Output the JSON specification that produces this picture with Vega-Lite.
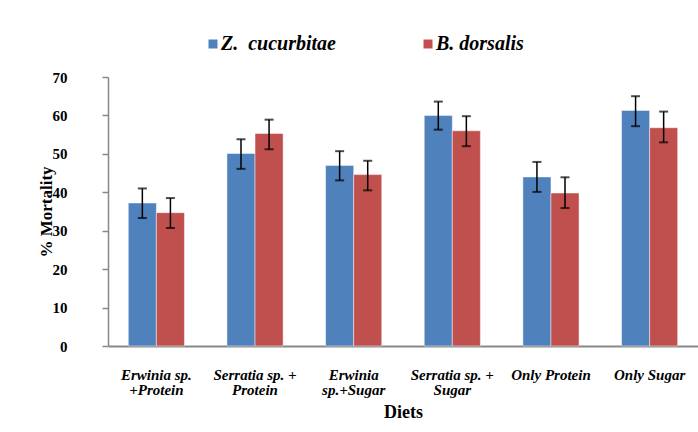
{
  "$schema": "https://vega.github.io/schema/vega-lite/v6.json",
  "autosize": "none",
  "width": 590,
  "height": 269,
  "padding": {"left": 108, "top": 77, "right": 0, "bottom": 86},
  "background": "white",
  "config": {
    "view": {"stroke": null},
    "font": "Liberation Serif"
  },
  "data": {
    "values": [
      {"diet": "Erwinia sp.|+Protein", "species": "Z.\u00a0 cucurbitae", "mortality": 37.2, "lo": 33.3, "hi": 41.0},
      {"diet": "Erwinia sp.|+Protein", "species": "B. dorsalis", "mortality": 34.7, "lo": 30.7, "hi": 38.5},
      {"diet": "Serratia sp. +|Protein", "species": "Z.\u00a0 cucurbitae", "mortality": 50.1, "lo": 46.1, "hi": 53.8},
      {"diet": "Serratia sp. +|Protein", "species": "B. dorsalis", "mortality": 55.3, "lo": 51.2, "hi": 58.9},
      {"diet": "Erwinia|sp.+Sugar", "species": "Z.\u00a0 cucurbitae", "mortality": 47.0, "lo": 43.1, "hi": 50.7},
      {"diet": "Erwinia|sp.+Sugar", "species": "B. dorsalis", "mortality": 44.6, "lo": 40.5, "hi": 48.2},
      {"diet": "Serratia sp. +|Sugar", "species": "Z.\u00a0 cucurbitae", "mortality": 60.0, "lo": 56.3, "hi": 63.6},
      {"diet": "Serratia sp. +|Sugar", "species": "B. dorsalis", "mortality": 56.0, "lo": 52.0, "hi": 59.8},
      {"diet": "Only Protein", "species": "Z.\u00a0 cucurbitae", "mortality": 44.0, "lo": 40.1, "hi": 47.9},
      {"diet": "Only Protein", "species": "B. dorsalis", "mortality": 39.8, "lo": 35.9, "hi": 43.9},
      {"diet": "Only Sugar", "species": "Z.\u00a0 cucurbitae", "mortality": 61.3, "lo": 57.2, "hi": 65.0},
      {"diet": "Only Sugar", "species": "B. dorsalis", "mortality": 56.8, "lo": 53.0, "hi": 61.0}
    ]
  },
  "resolve": {"axis": {"y": "independent"}},
  "encoding": {
    "x": {
      "field": "diet",
      "type": "nominal",
      "sort": null,
      "scale": {"paddingInner": 0.431, "paddingOuter": 0.206},
      "axis": {
        "title": "Diets",
        "titleFont": "Liberation Serif",
        "titleFontSize": 18,
        "titleFontWeight": "bold",
        "titleColor": "black",
        "titlePadding": 6,
        "labelExpr": "split(datum.label, '|')",
        "labelFont": "Liberation Serif",
        "labelFontSize": 15,
        "labelFontWeight": "bold",
        "labelFontStyle": "italic",
        "labelColor": "black",
        "labelLineHeight": 15,
        "labelAngle": 0,
        "labelPadding": 21,
        "labelLimit": 200,
        "ticks": false,
        "tickSize": 0,
        "domainColor": "#888888",
        "domainWidth": 2
      }
    },
    "xOffset": {
      "field": "species",
      "type": "nominal",
      "sort": ["Z.\u00a0 cucurbitae", "B. dorsalis"],
      "scale": {"paddingInner": 0, "paddingOuter": 0}
    }
  },
  "layer": [
    {
      "mark": {"type": "bar", "stroke": "white", "strokeOpacity": 0.45, "strokeWidth": 1},
      "encoding": {
        "y": {
          "field": "mortality",
          "type": "quantitative",
          "scale": {"domain": [0, 70]},
          "axis": {
            "title": "% Mortality",
            "titleFont": "Liberation Serif",
            "titleFontSize": 17,
            "titleFontWeight": "bold",
            "titleColor": "black",
            "titlePadding": -3,
            "values": [0, 10, 20, 30, 40, 50, 60, 70],
            "labelOverlap": false,
            "labelFont": "Liberation Serif",
            "labelFontSize": 15,
            "labelFontWeight": "bold",
            "labelColor": "black",
            "labelPadding": 35,
            "tickSize": 6,
            "tickColor": "#888888",
            "tickWidth": 1.5,
            "domainColor": "#888888",
            "domainWidth": 1.5,
            "grid": false
          }
        },
        "color": {
          "field": "species",
          "type": "nominal",
          "sort": ["Z.\u00a0 cucurbitae", "B. dorsalis"],
          "scale": {"domain": ["Z.\u00a0 cucurbitae", "B. dorsalis"], "range": ["#4F81BD", "#C0504D"]},
          "legend": {
            "title": null,
            "orient": "none",
            "legendX": 95,
            "legendY": -43,
            "direction": "horizontal",
            "columns": 2,
            "columnPadding": 82,
            "symbolType": "square",
            "symbolSize": 81,
            "symbolStrokeWidth": 0,
            "labelOffset": -2,
            "labelFont": "Liberation Serif",
            "labelFontSize": 20,
            "labelFontWeight": "bold",
            "labelFontStyle": "italic",
            "labelColor": "black",
            "labelLimit": 300
          }
        }
      }
    },
    {
      "mark": {"type": "rule", "color": "black", "strokeWidth": 1.5},
      "encoding": {
        "y": {"field": "lo", "type": "quantitative", "axis": null},
        "y2": {"field": "hi"}
      }
    },
    {
      "mark": {"type": "tick", "color": "black", "size": 9, "thickness": 2},
      "encoding": {
        "y": {"field": "lo", "type": "quantitative", "axis": null}
      }
    },
    {
      "mark": {"type": "tick", "color": "black", "size": 9, "thickness": 2},
      "encoding": {
        "y": {"field": "hi", "type": "quantitative", "axis": null}
      }
    }
  ]
}
